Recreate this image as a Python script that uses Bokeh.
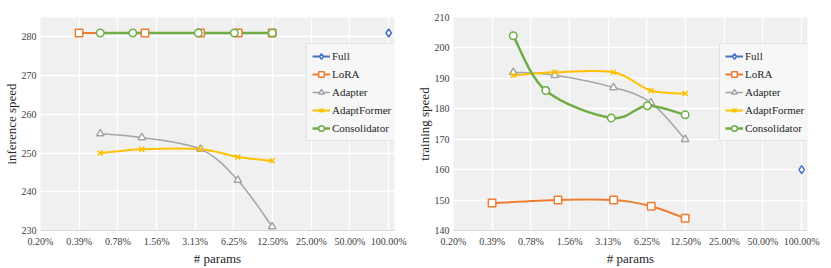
import math
from bokeh.plotting import figure
from bokeh.layouts import row
from bokeh.models import (Range1d, FixedTicker, CustomJSTickFormatter, Legend, LegendItem,
                          ColumnDataSource)
from bokeh.embed import file_html
from bokeh.resources import INLINE

# ---------------- data ----------------
SERIES = ["Full", "LoRA", "Adapter", "AdaptFormer", "Consolidator"]
COLORS = ["#4472C4", "#ED7D31", "#A5A5A5", "#FFC000", "#70AD47"]
MARKERS = ["diamond", "square", "triangle", "x", "circle"]

# x: trainable params (%)
full_x = [100.0]
lora_x = [0.39, 1.27, 3.44, 6.75, 12.4]
adapter_x = [0.57, 1.2, 3.43, 6.7, 12.4]
adaptformer_x = [0.57, 1.2, 3.43, 6.7, 12.4]
consolidator_x = [0.57, 1.02, 3.3, 6.3, 12.4]

# inference speed
inf_full = [281]
inf_lora = [281, 281, 281, 281, 281]
inf_adapter = [255, 254, 251, 243, 231]
inf_adaptformer = [250, 251, 251, 249, 248]
inf_consolidator = [281, 281, 281, 281, 281]

# training speed
tr_full = [160]
tr_lora = [149, 150, 150, 148, 144]
tr_adapter = [192, 191, 187, 182, 170]
tr_adaptformer = [191, 192, 192, 186, 185]
tr_consolidator = [204, 186, 177, 181, 178]

X_TICKS = [100.0 / 2 ** k for k in range(9, -1, -1)]
X_TICK_LABELS = ["0.20%", "0.39%", "0.78%", "1.56%", "3.13%", "6.25%",
                 "12.50%", "25.00%", "50.00%", "100.00%"]
INF_TICKS = [230, 240, 250, 260, 270, 280]
TR_TICKS = [140, 150, 160, 170, 180, 190, 200, 210]

XS = [full_x, lora_x, adapter_x, adaptformer_x, consolidator_x]
INF_YS = [inf_full, inf_lora, inf_adapter, inf_adaptformer, inf_consolidator]
TR_YS = [tr_full, tr_lora, tr_adapter, tr_adaptformer, tr_consolidator]

LINE_W = [2, 2, 1.5, 2, 2.5]
FONT = "Liberation Serif"
NAN = float("nan")


def smooth_segments(xs, ys):
    """Bezier segments (Catmull-Rom style smoothing) in log2-x space."""
    u = [math.log2(v) for v in xs]
    n = len(u)
    out = dict(x0=[], y0=[], x1=[], y1=[], cx0=[], cy0=[], cx1=[], cy1=[])
    for i in range(n - 1):
        im1 = max(i - 1, 0)
        ip2 = min(i + 2, n - 1)
        c0u = u[i] + (u[i + 1] - u[im1]) / 6.0
        c0y = ys[i] + (ys[i + 1] - ys[im1]) / 6.0
        c1u = u[i + 1] - (u[ip2] - u[i]) / 6.0
        c1y = ys[i + 1] - (ys[ip2] - ys[i]) / 6.0
        out["x0"].append(xs[i]); out["y0"].append(ys[i])
        out["x1"].append(xs[i + 1]); out["y1"].append(ys[i + 1])
        out["cx0"].append(2 ** c0u); out["cy0"].append(c0y)
        out["cx1"].append(2 ** c1u); out["cy1"].append(c1y)
    return out


def make_chart(ys_list, y_lo, y_hi, y_ticks, y_title, right_border):
    p = figure(frame_width=354, frame_height=213, x_axis_type="log",
               x_range=Range1d(0.1953125, 111), y_range=Range1d(y_lo, y_hi),
               output_backend="svg", toolbar_location=None,
               min_border_top=17, min_border_right=right_border, min_border_left=31,
               min_border_bottom=0,
               background_fill_color="#f0f0f0", border_fill_color="white",
               outline_line_color=None)
    p.xaxis.ticker = FixedTicker(ticks=X_TICKS)
    p.xaxis.formatter = CustomJSTickFormatter(
        args=dict(tick_vals=X_TICKS, tick_names=X_TICK_LABELS),
        code="""
        let best = 0, bd = Infinity;
        for (let i = 0; i < tick_vals.length; i++) {
            const d = Math.abs(Math.log(tick_vals[i]) - Math.log(tick));
            if (d < bd) { bd = d; best = i; }
        }
        return tick_names[best];
        """)
    p.yaxis.ticker = FixedTicker(ticks=y_ticks)
    p.xgrid.ticker = FixedTicker(ticks=X_TICKS)
    p.ygrid.ticker = FixedTicker(ticks=y_ticks)
    for g in (p.xgrid, p.ygrid):
        g.grid_line_color = "white"
        g.grid_line_width = 1.3
    for ax in (p.xaxis, p.yaxis):
        ax.major_tick_line_color = None
        ax.minor_tick_line_color = None
        ax.major_tick_out = 0
        ax.major_tick_in = 0
        ax.minor_tick_out = 0
        ax.minor_tick_in = 0
        ax.major_label_text_font = FONT
        ax.major_label_text_font_size = "10px"
        ax.major_label_text_color = "#404040"
        ax.axis_label_text_font = FONT
        ax.axis_label_text_font_size = "13px"
        ax.axis_label_text_font_style = "normal"
        ax.axis_label_text_color = "#262626"
    p.xaxis.axis_line_color = "#d9d9d9"
    p.yaxis.axis_line_color = None
    p.xaxis.major_label_standoff = 5
    p.yaxis.major_label_standoff = 4
    p.xaxis.axis_label_standoff = 1
    p.yaxis.axis_label_standoff = 0
    p.xaxis.axis_label = "# params"
    p.yaxis.axis_label = y_title

    line_rs = []
    # lines first
    for xs, ys, col, lw in zip(XS, ys_list, COLORS, LINE_W):
        if len(xs) > 1:
            src = ColumnDataSource(smooth_segments(xs, ys))
            p.bezier(x0="x0", y0="y0", x1="x1", y1="y1", cx0="cx0", cy0="cy0",
                     cx1="cx1", cy1="cy1", source=src, line_color=col, line_width=lw)
        # legend-only line renderer (draws nothing in the plot)
        line_rs.append(p.line(x=[NAN], y=[NAN], line_color=col, line_width=lw))
    # markers on top
    mark_rs = []
    for xs, ys, col, mk in zip(XS, ys_list, COLORS, MARKERS):
        if mk == "x":
            r = p.scatter(xs, ys, marker=mk, size=7, line_color=col, line_width=1.6)
        elif mk == "diamond":
            r = p.scatter(xs, ys, marker=mk, size=8, line_color=col, line_width=1.5,
                          fill_color="white")
        else:
            r = p.scatter(xs, ys, marker=mk, size=7.5, line_color=col, line_width=1.5,
                          fill_color="white")
        mark_rs.append(r)

    items = [LegendItem(label=name, renderers=[lr, mr])
             for name, lr, mr in zip(SERIES, line_rs, mark_rs)]
    leg = Legend(items=items, location=(266, 89),
                 label_text_font=FONT, label_text_font_size="11px",
                 label_text_color="#262626",
                 glyph_width=18, glyph_height=14, label_height=14, label_standoff=2,
                 spacing=4, padding=5, margin=0,
                 border_line_color="#d0d0d0", border_line_width=1,
                 background_fill_color="#f7f7f7", background_fill_alpha=1.0)
    p.add_layout(leg, "center")
    return p


p1 = make_chart(INF_YS, 230, 285, INF_TICKS, "inference speed", 19)
p2 = make_chart(TR_YS, 140, 210, TR_TICKS, "training speed", 15)

layout = row(p1, p2)
open("out.html", "w").write(file_html(layout, INLINE))
